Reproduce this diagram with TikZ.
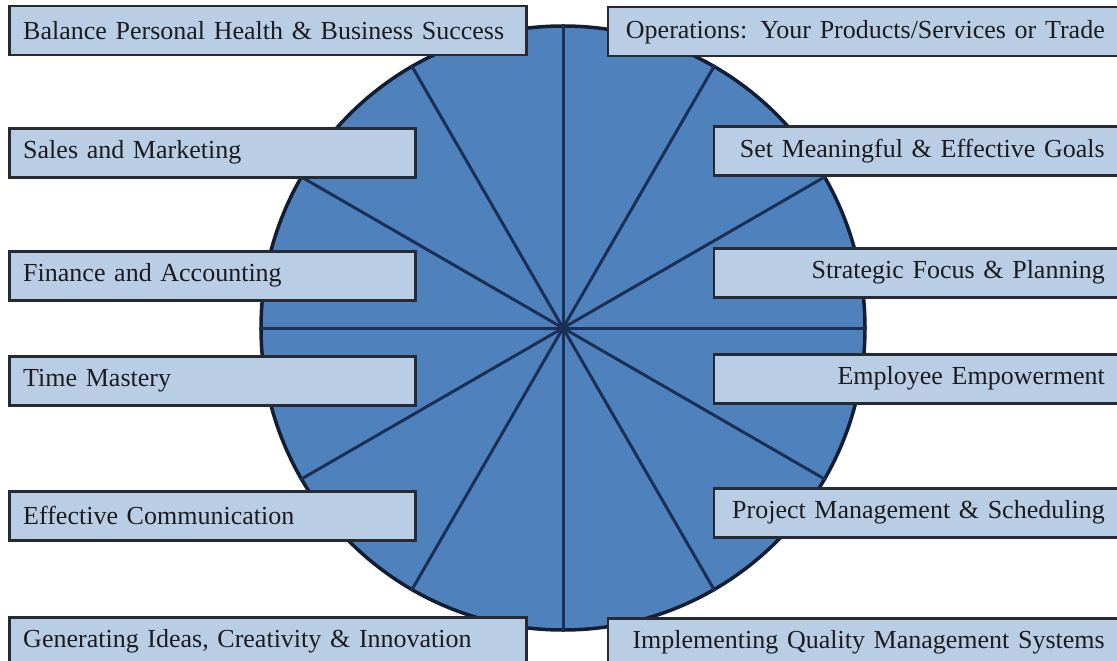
\documentclass[tikz,border=0pt]{standalone}
\usepackage{fontspec}
\setmainfont{Liberation Serif}
\usepackage{xcolor}
\usepackage{tikz}
\usetikzlibrary{calc}

\definecolor{wheelblue}{RGB}{79,129,189}
\definecolor{wheelline}{RGB}{20,30,50}
\definecolor{spokeline}{RGB}{26,48,86}
\definecolor{boxblue}{RGB}{185,205,229}
\definecolor{boxline}{RGB}{38,42,50}
\definecolor{labeltext}{RGB}{28,28,32}

\tikzset{
    wheel/.style={circle, draw=wheelline, line width=3.5pt, fill=wheelblue,
        minimum size=604pt, inner sep=0pt},
    spoke/.style={draw=spokeline, line width=3pt},
    topic/.style={draw=boxline, line width=2.5pt, fill=boxblue,
        inner xsep=14pt, inner ysep=0pt, minimum height=49pt,
        font=\fontsize{26}{30}\selectfont, text=labeltext},
    lefttopic/.style={topic, anchor=north west, align=left},
    righttopic/.style={topic, anchor=north east, align=right}
}

\begin{document}
\begin{tikzpicture}[x=1pt, y=-1pt]
    \useasboundingbox (0,0) rectangle (1117,661);
    \clip (0,0) rectangle (1117,661);
    \fill[white] (0,0) rectangle (1117,661);

    % the wheel and its twelve spokes
    \node[wheel] (hub) at (563,328) {};
    \foreach \ang in {0,30,...,330}
        \draw[spoke] (hub.center) -- (hub.\ang);

    % left column
    \node[lefttopic, text width=489pt] (health) at (8,5)
        {Balance Personal Health \& Business Success};
    \node[lefttopic, text width=378pt] (sales) at (8,127) {Sales and Marketing};
    \node[lefttopic, text width=378pt] (finance) at (8,250) {Finance and Accounting};
    \node[lefttopic, text width=378pt] (time) at (8,355) {Time Mastery};
    \node[lefttopic, text width=378pt] (comm) at (8,490) {Effective Communication};
    \node[lefttopic, text width=489pt] (ideas) at (8,616)
        {Generating Ideas, Creativity \& Innovation};

    % right column
    \node[righttopic, text width=483pt] (ops) at (1120,6)
        {Operations: Your Products/Services or Trade};
    \node[righttopic, text width=377pt] (goals) at (1120,125)
        {Set Meaningful \& Effective Goals};
    \node[righttopic, text width=377pt] (focus) at (1120,247)
        {Strategic Focus \& Planning};
    \node[righttopic, text width=377pt] (staff) at (1120,353)
        {Employee Empowerment};
    \node[righttopic, text width=377pt] (project) at (1120,487)
        {Project Management \& Scheduling};
    \node[righttopic, text width=483pt] (quality) at (1120,617)
        {Implementing Quality Management Systems};
\end{tikzpicture}
\end{document}
